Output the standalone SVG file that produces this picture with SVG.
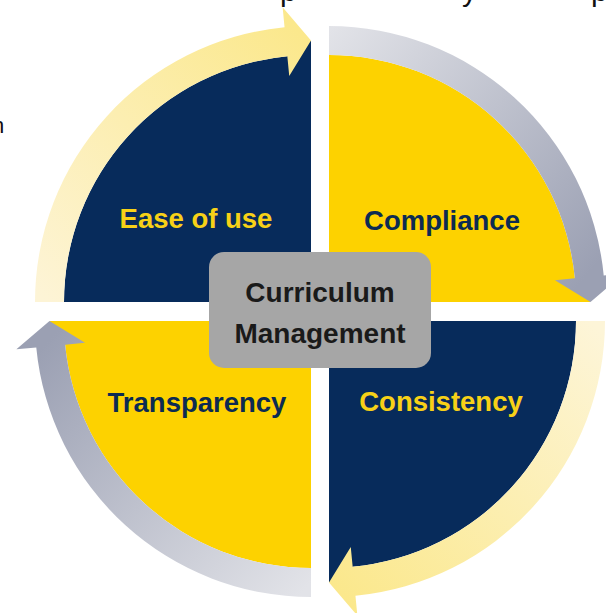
<svg xmlns="http://www.w3.org/2000/svg" width="606" height="613" viewBox="0 0 606 613">
<style>
.lbl{font-family:"Liberation Sans",Arial,sans-serif;font-weight:bold;font-size:27.5px;text-anchor:middle}
.onNavy{fill:#f7d117}
.onYellow{fill:#0c2b52}
.center{font-family:"Liberation Sans",Arial,sans-serif;font-weight:bold;font-size:28px;text-anchor:middle;fill:#1a1a1a}
.frag{font-family:"Liberation Sans",Arial,sans-serif;fill:#111}
.navy{fill:#072b5b}
.yellow{fill:#fdd200}
</style>
<defs>
<linearGradient id="gTR" gradientUnits="userSpaceOnUse" x1="330" y1="30" x2="600" y2="260">
<stop offset="0" stop-color="#e2e3e8"/><stop offset="1" stop-color="#9ba0b3"/>
</linearGradient>
<linearGradient id="gBL" gradientUnits="userSpaceOnUse" x1="300" y1="595" x2="40" y2="350">
<stop offset="0" stop-color="#e2e3e8"/><stop offset="1" stop-color="#9ba0b3"/>
</linearGradient>
<linearGradient id="gTL" gradientUnits="userSpaceOnUse" x1="45" y1="300" x2="300" y2="30">
<stop offset="0" stop-color="#fdf4d6"/><stop offset="1" stop-color="#fbe88c"/>
</linearGradient>
<linearGradient id="gBR" gradientUnits="userSpaceOnUse" x1="595" y1="325" x2="335" y2="590">
<stop offset="0" stop-color="#fdf5d8"/><stop offset="1" stop-color="#fbe88c"/>
</linearGradient>
</defs>
<text class="frag" x="280" y="0.5" font-size="30">p</text>
<text class="frag" x="462" y="0.5" font-size="30">y</text>
<text class="frag" x="591" y="0.5" font-size="30">p</text>
<text class="frag" x="-8" y="133" font-size="22">n</text>
<g id="quadrant-ease">
<path class="navy" d="M311,302 L64,302 A247,247 0 0 1 287.33,56.14 L311,40.5 Z"/>
<text class="lbl onNavy" x="196" y="228">Ease of use</text>
</g>
<g id="quadrant-compliance">
<path class="yellow" d="M329,302 L329,55 A247,247 0 0 1 574.86,278.33 L590.5,302 Z"/>
<text class="lbl onYellow" x="442" y="230">Compliance</text>
</g>
<g id="quadrant-consistency">
<path class="navy" d="M329,321 L576,321 A247,247 0 0 1 352.67,566.86 L329,582.5 Z"/>
<text class="lbl onNavy" x="441" y="411">Consistency</text>
</g>
<g id="quadrant-transparency">
<path class="yellow" d="M311,321 L311,568 A247,247 0 0 1 65.14,344.67 L49.5,321 Z"/>
<text class="lbl onYellow" x="197" y="412">Transparency</text>
</g>
<g id="connectors">
<path fill="url(#gTL)" d="M35,302 A276,276 0 0 1 284.55,27.27 L282.63,7.36 L311,40.5 L289.24,76.04 L287.33,56.14 A247,247 0 0 0 64,302 Z"/>
<path fill="url(#gTR)" d="M329,26 A276,276 0 0 1 603.73,275.55 L623.64,273.63 L590.5,302 L554.96,280.24 L574.86,278.33 A247,247 0 0 0 329,55 Z"/>
<path fill="url(#gBR)" d="M605,321 A276,276 0 0 1 355.45,595.73 L357.37,615.64 L329,582.5 L350.76,546.96 L352.67,566.86 A247,247 0 0 0 576,321 Z"/>
<path fill="url(#gBL)" d="M311,597 A276,276 0 0 1 36.27,347.45 L16.36,349.37 L49.5,321 L85.04,342.76 L65.14,344.67 A247,247 0 0 0 311,568 Z"/>
</g>
<g id="center-node">
<rect x="209" y="252" width="222" height="116" rx="15" fill="#a6a6a6"/>
<text class="center" x="320" y="302">Curriculum</text>
<text class="center" x="320" y="343">Management</text>
</g>
</svg>
